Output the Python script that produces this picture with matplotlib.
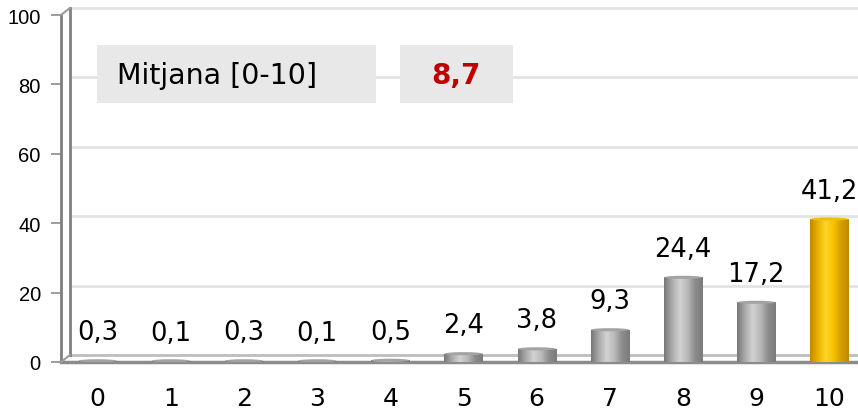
import numpy as np
import matplotlib
matplotlib.use("Agg")
import matplotlib.pyplot as plt
from matplotlib.colors import LinearSegmentedColormap
from matplotlib.transforms import offset_copy
from matplotlib.patches import Ellipse, Rectangle

# data
categories = ["0", "1", "2", "3", "4", "5", "6", "7", "8", "9", "10"]
values = [0.3, 0.1, 0.3, 0.1, 0.5, 2.4, 3.8, 9.3, 24.4, 17.2, 41.2]
labels = ["0,3", "0,1", "0,3", "0,1", "0,5", "2,4", "3,8", "9,3", "24,4", "17,2", "41,2"]
yticks = [0, 20, 40, 60, 80, 100]
mean_label = "Mitjana [0-10]"
mean_value = "8,7"

gray_cmap = LinearSegmentedColormap.from_list(
    "g", ["#767676", "#a9a9a9", "#d2d2d2", "#bababa", "#8c8c8c", "#7a7a7a"])
gold_cmap = LinearSegmentedColormap.from_list(
    "y", ["#c08a00", "#eab000", "#ffd52a", "#f8c400", "#d69c00", "#c08a00"])

fig = plt.figure(figsize=(8.58, 4.14), dpi=100)
ax = fig.add_axes([61 / 858, 51 / 414, 797 / 858, 347 / 414])
ax.set_xlim(-0.5, 10.39)
ax.set_ylim(0, 100)

# back wall offset (3D look)
back = offset_copy(ax.transData, fig=fig, x=9, y=7, units="dots")

# gridlines on back wall
for v in yticks:
    col = "#bdbdbd" if v == 0 else "#e3e3e3"
    ax.plot([-0.5, 10.6], [v, v], color=col, lw=2, transform=back,
            clip_on=False, zorder=0)
ax.plot([-0.5, -0.5], [0, 100], color="#7f7f7f", lw=2, transform=back,
        clip_on=False, zorder=1)
# connecting diagonals
for v in [0, 100]:
    p0 = ax.transData.transform((-0.5, v))
    p1 = back.transform((-0.5, v))
    fig.add_artist(plt.Line2D([p0[0] / 858, p1[0] / 858], [p0[1] / 414, p1[1] / 414],
                              color="#9a9a9a", lw=1.5))

# bars
x = np.arange(len(values))
bars = ax.bar(x, values, width=0.52, color="none", edgecolor="none", zorder=3)
grad = np.linspace(0, 1, 256).reshape(1, -1)
for i, (b, v) in enumerate(zip(bars, values)):
    cmap = gold_cmap if i == len(values) - 1 else gray_cmap
    x0 = b.get_x()
    w = b.get_width()
    h = max(v, 0.35)
    im = ax.imshow(grad, cmap=cmap, extent=(x0, x0 + w, 0, h), aspect="auto",
                   zorder=3, interpolation="bicubic")
    clip = Rectangle((x0, 0), w, h, transform=ax.transData)
    im.set_clip_path(clip)
    top = "#f2be00" if i == len(values) - 1 else "#a3a3a3"
    ax.add_patch(Ellipse((x0 + w / 2, h), w, 0.9, color=top, zorder=4, lw=0))
    ax.annotate(labels[i], (b.get_x() + w / 2, v), xytext=(0, 15.5),
                textcoords="offset points", ha="center", va="baseline",
                fontsize=18.5, color="black", zorder=5)

ax.set_xlim(-0.5, 10.39)
ax.set_ylim(0, 100)

# axes styling
for s in ["top", "right"]:
    ax.spines[s].set_visible(False)
ax.spines["left"].set_color("#7f7f7f")
ax.spines["left"].set_linewidth(2)
ax.spines["bottom"].set_color("#8c8c8c")
ax.spines["bottom"].set_linewidth(2.5)
ax.set_yticks(yticks)
ax.set_yticklabels([str(t) for t in yticks], fontsize=14.5,
                   family="Liberation Sans")
ax.set_xticks(x)
ax.set_xticklabels(categories, fontsize=18)
ax.tick_params(axis="y", length=7, width=1.2, color="#8c8c8c", pad=7.5)
ax.tick_params(axis="x", length=0, pad=17)
ax.set_facecolor("none")

# mean boxes
ax.add_patch(Rectangle((97 / 858, (414 - 104) / 414), 279 / 858, 58 / 414,
                       transform=fig.transFigure, fc="#e8e8e8", ec="none",
                       zorder=5, clip_on=False))
ax.add_patch(Rectangle((400 / 858, (414 - 104) / 414), 113 / 858, 58 / 414,
                       transform=fig.transFigure, fc="#e8e8e8", ec="none",
                       zorder=5, clip_on=False))
ax.text(117 / 858, (414 - 76) / 414, mean_label, transform=fig.transFigure,
        fontsize=20.5, va="center", ha="left", zorder=6)
ax.text(456 / 858, (414 - 76) / 414, mean_value, transform=fig.transFigure,
        fontsize=20, fontweight="bold", color="#c00000", ha="center",
        va="center", zorder=6)

fig.savefig("out.png", dpi=100)
